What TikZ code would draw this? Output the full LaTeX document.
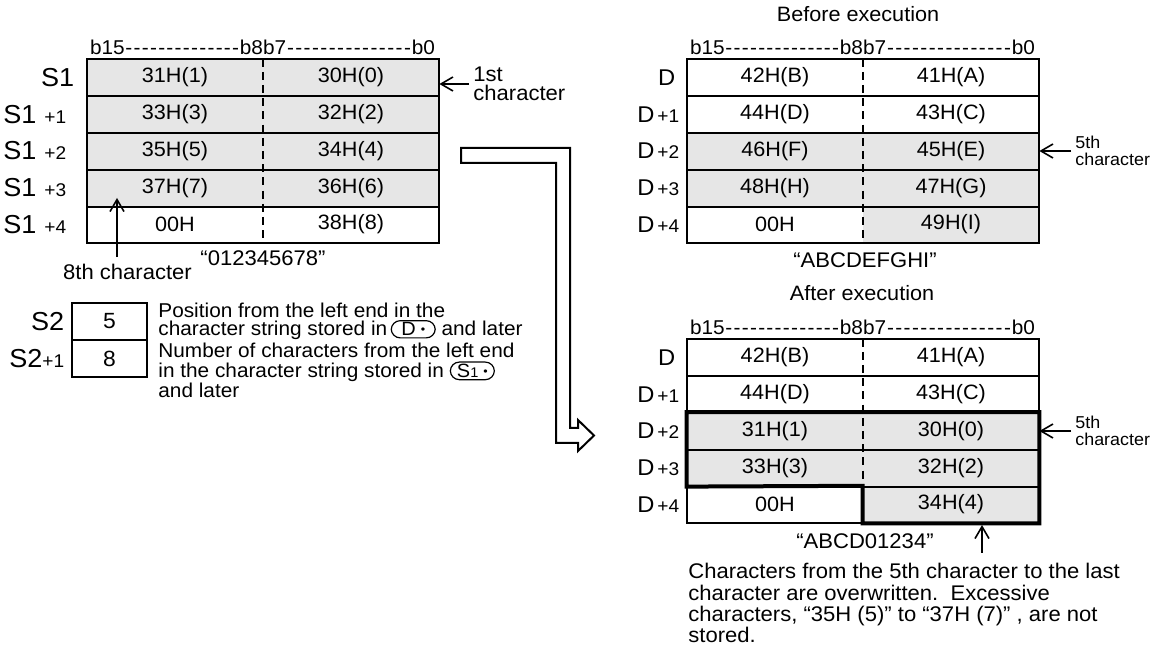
\documentclass[tikz,border=0pt]{standalone}
\usepackage{fontspec}
\setmainfont{Liberation Sans}[FakeStretch=1.04]
\usetikzlibrary{arrows.meta,positioning}
\definecolor{cellgray}{RGB}{230,230,230}
\newcommand{\fsz}[2]{\fontsize{#1}{#2}\selectfont}
\newcommand{\tightlines}{\lineskiplimit=-5pt\relax}
\newcommand{\dashfill}{\xleaders\hbox to 4pt{\hss-\hss}\hfill}
\newcommand{\offs}[1]{{\fsz{9.2}{10}+#1}}
\newcommand{\opnd}[1]{\tikz[baseline=(o.base)]\node[opbox](o){#1\hspace{2.5pt}\raisebox{1.2pt}{\fsz{6}{6}\textbullet}};}
\tikzset{cell/.style={minimum width=88pt,minimum height=18.4pt,inner sep=0pt,font=\fsz{10.4}{12}},
  s2cell/.style={minimum width=37.5pt,minimum height=18.25pt,inner sep=0pt,font=\fsz{11}{12}},
  tbl/.style={line width=1pt},mid/.style={line width=1pt,dash pattern=on 4pt off 2.6pt},
  wrt/.style={line width=2pt},
  lbl/.style={inner sep=0pt,font=\fsz{13}{14}},dlbl/.style={inner sep=0pt,font=\fsz{11.4}{13}},
  bits/.style={inner sep=0pt,font=\fsz{10}{11}},
  str/.style={inner sep=0pt,anchor=base,font=\fsz{10.6}{12}},
  txt/.style={inner sep=0pt,align=left},
  arr/.style={-{Straight Barb[length=6pt,width=7pt]},line width=0.8pt},
  opbox/.style={draw,rounded corners=4.5pt,line width=0.6pt,inner xsep=1.5pt,inner ysep=1pt,minimum width=22pt,font=\fsz{9.6}{10}}}
\begin{document}
\begin{tikzpicture}[x=0.5pt,y=-0.5pt]
\useasboundingbox (0,0) rectangle (1157,646);
% source S1
\foreach \n/\hv/\lv/\fa/\fb in {0/31H(1)/30H(0)/cellgray/cellgray,1/33H(3)/32H(2)/cellgray/cellgray,
  2/35H(5)/34H(4)/cellgray/cellgray,3/37H(7)/36H(6)/cellgray/cellgray,4/00H/38H(8)/white/white}{
  \node[cell,fill=\fa](sh\n)at(175,77.4+36.8*\n){\hv};\node[cell,fill=\fb](sl\n)at(351,77.4+36.8*\n){\lv};}
\draw[tbl](sh0.north west)rectangle(sl4.south east);
\foreach \n in{0,...,3}\draw[tbl](sh\n.south west)--(sl\n.south east);
\draw[mid](sh0.north east)--(sh4.south east);
\node[lbl,left=6pt of sh0](slab0){S1};
\foreach \n in{1,...,4}\node[lbl,left=10pt of sh\n](slab\n){S1\hspace{4pt}\offs{\n}};
\node[bits,anchor=base west](sbh)at([xshift=1.5pt,yshift=2pt]sh0.north west){\hbox to 86.5pt{b15\dashfill b8}};
\node[bits,anchor=base east](sbl)at([xshift=-2pt,yshift=2pt]sl0.north east){\hbox to 86pt{b7\dashfill b0}};
\node[txt,anchor=west,font=\fsz{10.6}{9.8},inner xsep=2pt](first)at(469,84){1st\\character};
\draw[arr](first.west)--(first.west-|sl0.east);
\node[str](sstr)at(263,266){“012345678”};
\node[str](eighth)at(127.5,280){8th character};
\coordinate(c8)at(117,198);
\draw[arr,shorten <=3.5pt](eighth.north-|c8)--(c8);
% S2
\node[s2cell](s2a)at(109.5,321.25){5};
\node[s2cell,below=0pt of s2a](s2b){8};
\draw[tbl](s2a.north west)rectangle(s2b.south east) (s2a.south west)--(s2a.south east);
\node[lbl,left=3.5pt of s2a](s2lab){S2};
\node[lbl,left=3.5pt of s2b](s2lab1){S2\offs{1}};
\node[txt,anchor=north west,font=\fsz{10}{9}\tightlines](pos)at(158,303){Position from the left end in the\\character string stored in\,\opnd{D} and later};
\node[txt,anchor=north west,font=\fsz{10}{9.8}\tightlines](num)at(158,343){Number of characters from the left end\\in the character string stored in \opnd{S{\fsz{7}{7}1}}\\and later};
% hollow arrow
\draw[line width=1pt,fill=white](461,148)--(570,148)--(570,428)--(578,428)--(578,420)--(594,435.5)
  --(578,451)--(578,443)--(556,443)--(556,163)--(461,163)--cycle;
% before execution
\node[str,font=\fsz{10.4}{12}](before)at(858,21.5){Before execution};
\foreach \n/\hv/\lv/\fa/\fb in {0/42H(B)/41H(A)/white/white,1/44H(D)/43H(C)/white/white,
  2/46H(F)/45H(E)/cellgray/cellgray,3/48H(H)/47H(G)/cellgray/cellgray,4/00H/49H(I)/white/cellgray}{
  \node[cell,fill=\fa](bh\n)at(775,77.4+36.8*\n){\hv};\node[cell,fill=\fb](bl\n)at(951,77.4+36.8*\n){\lv};}
\draw[tbl](bh0.north west)rectangle(bl4.south east);
\foreach \n in{0,...,3}\draw[tbl](bh\n.south west)--(bl\n.south east);
\draw[mid](bh0.north east)--(bh4.south east);
\node[dlbl,left=5.5pt of bh0](blab0){D};
\foreach \n in{1,...,4}\node[dlbl,left=3.5pt of bh\n](blab\n){D\hspace{1.5pt}\offs{\n}};
\node[bits,anchor=base west](bbh)at([xshift=1.5pt,yshift=2pt]bh0.north west){\hbox to 86.5pt{b15\dashfill b8}};
\node[bits,anchor=base east](bbl)at([xshift=-2pt,yshift=2pt]bl0.north east){\hbox to 86pt{b7\dashfill b0}};
\node[txt,anchor=west,font=\fsz{8.6}{8.2},inner xsep=2pt](bfifth)at(1071,151){5th\\character};
\draw[arr](bfifth.west)--(bl2.east);
\node[str](bstr)at(865,268){“ABCDEFGHI”};
% after execution
\node[str,font=\fsz{10.4}{12}](after)at(862,301){After execution};
\foreach \n/\hv/\lv/\fa/\fb in {0/42H(B)/41H(A)/white/white,1/44H(D)/43H(C)/white/white,
  2/31H(1)/30H(0)/cellgray/cellgray,3/33H(3)/32H(2)/cellgray/cellgray,4/00H/34H(4)/white/cellgray}{
  \node[cell,fill=\fa](ah\n)at(775,357.4+36.8*\n){\hv};\node[cell,fill=\fb](al\n)at(951,357.4+36.8*\n){\lv};}
\draw[tbl](ah0.north west)rectangle(al4.south east);
\foreach \n in{0,...,3}\draw[tbl](ah\n.south west)--(al\n.south east);
\draw[mid](ah0.north east)--(ah4.south east);
\draw[wrt](ah2.north west)--(al2.north east)--(al4.south east)--(al4.south west)--(al4.north west)--(ah3.south west)--cycle;
\node[dlbl,left=5.5pt of ah0](alab0){D};
\foreach \n in{1,...,4}\node[dlbl,left=3.5pt of ah\n](alab\n){D\hspace{1.5pt}\offs{\n}};
\node[bits,anchor=base west](abh)at([xshift=1.5pt,yshift=2pt]ah0.north west){\hbox to 86.5pt{b15\dashfill b8}};
\node[bits,anchor=base east](abl)at([xshift=-2pt,yshift=2pt]al0.north east){\hbox to 86pt{b7\dashfill b0}};
\node[txt,anchor=west,font=\fsz{8.6}{8.2},inner xsep=2pt](afifth)at(1071,431){5th\\character};
\draw[arr](afifth.west)--(al2.east);
\node[str](astr)at(865,548){“ABCD01234”};
\node[txt,anchor=north west,font=\fsz{10.6}{10.65}](note)at(688,563){Characters from the 5th character to the last\\character are overwritten.\ \ Excessive\\characters, “35H (5)” to “37H (7)” , are not\\stored.};
\coordinate(ovtip)at(982,525);
\draw[arr,shorten <=5pt](note.north-|ovtip)--(ovtip);
\end{tikzpicture}
\end{document}
